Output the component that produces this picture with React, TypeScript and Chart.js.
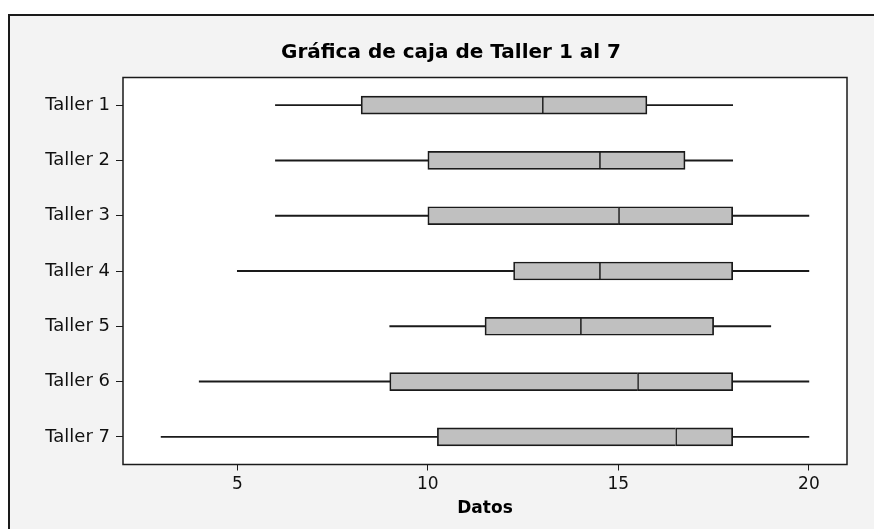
import React, { useEffect, useRef } from "react";
import { Chart, registerables } from "chart.js";

Chart.register(...registerables);

const categories = ["Taller 1", "Taller 2", "Taller 3", "Taller 4", "Taller 5", "Taller 6", "Taller 7"];
const mins = [6, 6, 6, 5, 9, 4, 3];
const q1s = [8.25, 10, 10, 12.25, 11.5, 9, 10.25];
const medians = [13, 14.5, 15, 14.5, 14, 15.5, 16.5];
const q3s = [15.75, 16.75, 18, 18, 17.5, 18, 18];
const maxs = [18, 18, 20, 20, 19, 20, 20];
const xTickValues = [5, 10, 15, 20];
const xMin = 2;
const xMax = 21;

const FONT = "'DejaVu Sans', Verdana, sans-serif";

const framePlugin = {
  id: "frame",
  beforeDraw(chart: any) {
    const { ctx, width, height, chartArea } = chart;
    ctx.save();
    ctx.fillStyle = "#ffffff";
    ctx.fillRect(0, 0, width, height);
    ctx.fillStyle = "#f3f3f3";
    ctx.fillRect(9, 15, width, height);
    ctx.strokeStyle = "#1a1a1a";
    ctx.lineWidth = 2;
    ctx.beginPath();
    ctx.moveTo(9, height + 2);
    ctx.lineTo(9, 15);
    ctx.lineTo(width + 2, 15);
    ctx.stroke();
    ctx.fillStyle = "#ffffff";
    ctx.fillRect(chartArea.left, chartArea.top, chartArea.right - chartArea.left, chartArea.bottom - chartArea.top);
    ctx.restore();
  },
  afterDraw(chart: any) {
    const { ctx, chartArea } = chart;
    ctx.save();
    ctx.strokeStyle = "#1a1a1a";
    ctx.lineWidth = 1.5;
    ctx.strokeRect(chartArea.left, chartArea.top, chartArea.right - chartArea.left, chartArea.bottom - chartArea.top);
    ctx.restore();
  },
};

export default function App() {
  const ref = useRef<HTMLCanvasElement>(null);
  useEffect(() => {
    document.body.style.margin = "0";
    const canvas = ref.current!;
    const boxColor = "#c0c0c0";
    const lineColor = "#1a1a1a";
    const chart = new Chart(canvas, {
      type: "bar",
      data: {
        labels: categories,
        datasets: [
          {
            label: "lowerWhisker",
            data: categories.map((_, i) => [mins[i], q1s[i]]),
            backgroundColor: lineColor,
            borderWidth: 0,
            barThickness: 1.3,
            grouped: false,
            order: 3,
          } as any,
          {
            label: "upperWhisker",
            data: categories.map((_, i) => [q3s[i], maxs[i]]),
            backgroundColor: lineColor,
            borderWidth: 0,
            barThickness: 1.3,
            grouped: false,
            order: 3,
          } as any,
          {
            label: "lowerBox",
            data: categories.map((_, i) => [q1s[i], medians[i]]),
            backgroundColor: boxColor,
            borderColor: lineColor,
            borderWidth: 1.7,
            borderSkipped: "end",
            barThickness: 18,
            grouped: false,
            order: 1,
          } as any,
          {
            label: "upperBox",
            data: categories.map((_, i) => [medians[i], q3s[i]]),
            backgroundColor: boxColor,
            borderColor: lineColor,
            borderWidth: 1.7,
            borderSkipped: false,
            barThickness: 18,
            grouped: false,
            order: 2,
          } as any,
        ],
      },
      options: {
        indexAxis: "y",
        responsive: false,
        animation: false,
        events: [],
        layout: { padding: { left: 28, right: 0, top: 0, bottom: 0 } },
        plugins: {
          legend: { display: false },
          tooltip: { enabled: false },
          title: {
            display: true,
            text: "Gráfica de caja de Taller 1 al 7",
            color: "#000",
            font: { family: FONT, size: 20, weight: "bold", lineHeight: 1.2 },
            padding: { top: 40.5, bottom: 13 },
          },
        },
        scales: {
          x: {
            type: "linear",
            min: xMin,
            max: xMax,
            afterBuildTicks: (scale: any) => {
              scale.ticks = xTickValues.map((v) => ({ value: v }));
            },
            afterFit: (scale: any) => {
              scale.height = 529 - 464.5;
            },
            grid: {
              display: true,
              drawOnChartArea: false,
              drawTicks: true,
              tickLength: 6,
              color: lineColor,
              lineWidth: 1,
            },
            border: { display: false },
            ticks: {
              color: "#111",
              font: { family: FONT, size: 17 },
              padding: 4,
              maxRotation: 0,
              autoSkip: false,
            },
            title: {
              display: true,
              text: "Datos",
              color: "#000",
              font: { family: FONT, size: 17, weight: "bold", lineHeight: 1.2 },
              padding: { top: 0, bottom: 10 },
            },
          },
          y: {
            type: "category",
            offset: true,
            afterFit: (scale: any) => {
              scale.width = 123 - 28;
            },
            grid: {
              display: true,
              drawOnChartArea: false,
              drawTicks: true,
              tickLength: 7,
              color: lineColor,
              lineWidth: 1,
              offset: false,
            },
            border: { display: false },
            ticks: {
              color: "#111",
              font: { family: FONT, size: 18 },
              padding: 6,
              autoSkip: false,
            },
          },
          spacer: {
            type: "linear",
            axis: "y",
            position: "right",
            display: true,
            afterFit: (scale: any) => {
              scale.width = 874 - 847;
            },
            grid: { display: false, drawTicks: false },
            border: { display: false },
            ticks: { display: false },
          },
        },
      } as any,
      plugins: [framePlugin],
    });
    return () => chart.destroy();
  }, []);
  return <canvas ref={ref} width={874} height={529} style={{ display: "block" }} />;
}
